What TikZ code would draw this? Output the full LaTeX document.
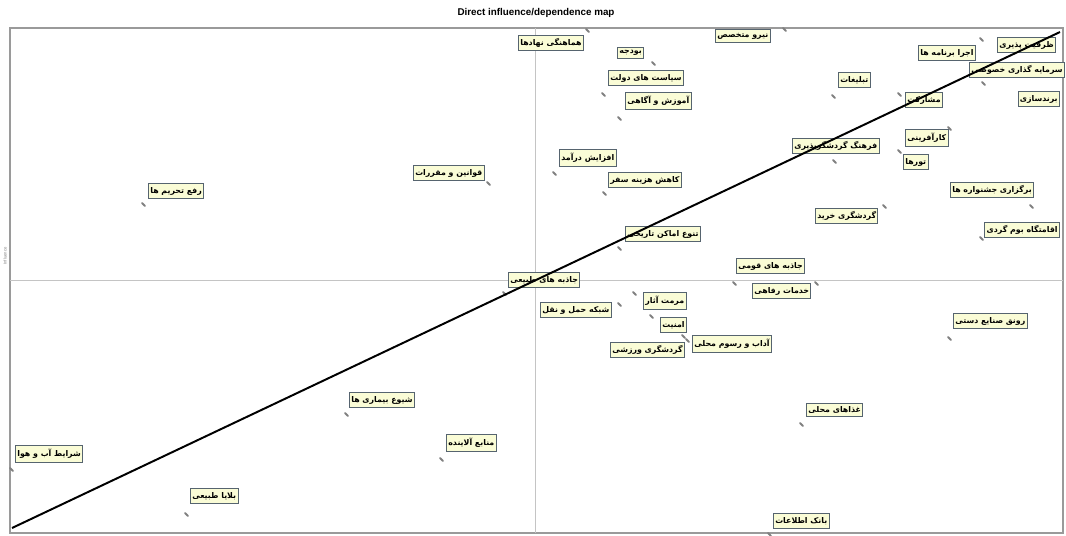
\documentclass[tikz,border=0pt]{standalone}
\usepackage{fontspec}
\setmainfont{Liberation Sans}
\newfontfamily\farsifont[Script=Arabic]{DejaVu Sans}
\TeXXeTstate=1
\definecolor{boxfill}{HTML}{FAFCD6}
\definecolor{boxline}{HTML}{56646F}
\definecolor{frameline}{HTML}{9A9A9A}
\definecolor{axisline}{HTML}{C4C4C4}

\begin{document}
\begin{tikzpicture}[x=0.025cm,y=-0.025cm,
  varbox/.style={draw=boxline,line width=0.7pt,fill=boxfill,inner xsep=1.3pt,inner ysep=2.4pt,anchor=west,
    font=\farsifont\bfseries\fontsize{5.6}{6}\selectfont},
  varpt/.style={draw=gray,line width=1.3pt,line cap=round},
  frame/.style={draw=frameline,line width=1pt},
  axis/.style={draw=axisline,line width=0.6pt},
  ]
\useasboundingbox (0,0) rectangle (1066,535);
\node[font=\bfseries\fontsize{7}{8}\selectfont] (title) at (536,13) {Direct influence/dependence map};
\node[rotate=90,font=\fontsize{3}{3}\selectfont,gray] (infl) at (5,256) {Influence};
\draw[frame] (10,28) rectangle (1063,533);
\draw[axis] (10,280) -- (1063,280);
\draw[axis] (535,28) -- (535,533);

\foreach \n/\mx/\my/\bx/\by/\t in {
  1/586/29/518/43/هماهنگی نهادها,
  2/783/28/715/36/نیرو متخصص,
  3/652/62/617/53/بودجه,
  4/602/93/608/78/سیاست های دولت,
  5/618/117/625/101/آموزش و آگاهی,
  6/832/95/838/80/تبلیغات,
  7/980/38/918/53/اجرا برنامه ها,
  8/1046/38/997/45/ظرفیت پذیری,
  11/898/93/905/100/مشارکت,
  12/948/127/905/138/کارآفرینی,
  13/833/160/792/146/فرهنگ گردشگرپذیری,
  14/898/150/903/162/تورها,
  15/1030/205/950/190/برگزاری جشنواره ها,
  16/883/205/815/216/گردشگری خرید,
  18/487/182/413/173/قوانین و مقررات,
  19/553/172/559/158/افزایش درآمد,
  20/603/192/608/180/کاهش هزینه سفر,
  21/618/247/625/234/تنوع اماکن تاریخی,
  22/142/203/148/191/رفع تحریم ها,
  23/503/292/508/280/جاذبه های طبیعی,
  24/618/303/540/310/شبکه حمل و نقل,
  25/633/292/643/301/مرمت آثار,
  26/650/315/660/325/امنیت,
  27/686/339/692/344/آداب و رسوم محلی,
  28/682/335/610/350/گردشگری ورزشی,
  29/733/282/736/266/جاذبه های قومی,
  30/815/282/752/291/خدمات رفاهی,
  31/948/337/953/321/رونق صنایع دستی,
  32/345/413/349/400/شیوع بیماری ها,
  33/440/458/446/443/منابع آلاینده,
  34/10/468/15/454/شرایط آب و هوا,
  35/185/513/190/496/بلایا طبیعی,
  36/800/423/806/410/غذاهای محلی,
  37/768/533/773/521/بانک اطلاعات}{
  \coordinate (p\n) at (\mx,\my);
  \draw[varpt] (p\n) -- ++(3,3);
  \node[varbox] (v\n) at (\bx,\by) {\beginR\t\endR};
}
\coordinate (p9) at (982,82);
\draw[varpt] (p9) -- ++(3,3);
\node[varbox,anchor=east] (v9) at (1065,70) {\beginR سرمایه گذاری خصوصی\endR};
\node[varbox,anchor=east] (v10) at (1060,99) {\beginR برندسازی\endR};
\coordinate (p17) at (980,237);
\draw[varpt] (p17) -- ++(3,3);
\node[varbox,anchor=east] (v17) at (1060,230) {\beginR اقامتگاه بوم گردی\endR};

\coordinate (lo) at (12,528);
\coordinate (hi) at (1060,32);
\draw[line width=1.4pt] (lo) -- (hi);
\end{tikzpicture}
\end{document}
